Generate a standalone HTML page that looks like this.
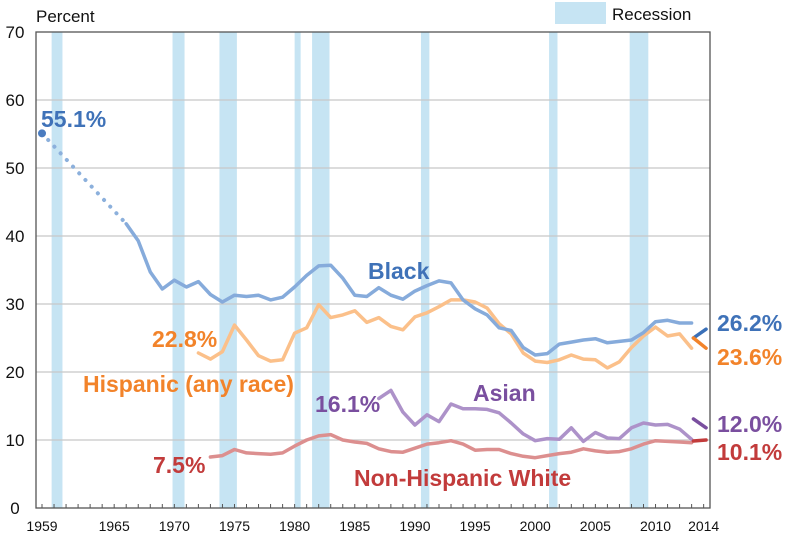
<!DOCTYPE html>
<html><head><meta charset="utf-8"><style>
html,body{margin:0;padding:0;background:#fff;}
svg{display:block;font-family:"Liberation Sans",Arial,sans-serif;}
</style></head><body>
<svg id="chart" width="785" height="536">
<g id="rec"></g><g id="grid"></g><g id="lines"></g><g id="labels"></g>
</svg>
<script>
const recessions=[[1959.8,1960.7],[1969.85,1970.85],[1973.75,1975.2],[1980.0,1980.5],[1981.45,1982.9],[1990.5,1991.2],[2001.15,2001.85],[2007.85,2009.4]];
const yTicks=[0,10,20,30,40,50,60,70];
const xTickLabels=[1959,1965,1970,1975,1980,1985,1990,1995,2000,2005,2010,2014];
const blackYears=[1966,1967,1968,1969,1970,1971,1972,1973,1974,1975,1976,1977,1978,1979,1980,1981,1982,1983,1984,1985,1986,1987,1988,1989,1990,1991,1992,1993,1994,1995,1996,1997,1998,1999,2000,2001,2002,2003,2004,2005,2006,2007,2008,2009,2010,2011,2012,2013];
const blackVals=[41.8,39.3,34.7,32.2,33.5,32.5,33.3,31.4,30.3,31.3,31.1,31.3,30.6,31.0,32.5,34.2,35.6,35.7,33.8,31.3,31.1,32.4,31.3,30.7,31.9,32.7,33.4,33.1,30.6,29.3,28.4,26.5,26.1,23.6,22.5,22.7,24.1,24.4,24.7,24.9,24.3,24.5,24.7,25.8,27.4,27.6,27.2,27.2];
const black1959=55.1;
const hispYears=[1972,1973,1974,1975,1976,1977,1978,1979,1980,1981,1982,1983,1984,1985,1986,1987,1988,1989,1990,1991,1992,1993,1994,1995,1996,1997,1998,1999,2000,2001,2002,2003,2004,2005,2006,2007,2008,2009,2010,2011,2012,2013];
const hispVals=[22.8,21.9,23.0,26.9,24.7,22.4,21.6,21.8,25.7,26.5,29.9,28.0,28.4,29.0,27.3,28.0,26.7,26.2,28.1,28.7,29.6,30.6,30.6,30.3,29.4,27.1,25.6,22.8,21.6,21.4,21.8,22.5,21.9,21.8,20.6,21.5,23.6,25.3,26.6,25.3,25.6,23.5];
const asianYears=[1987,1988,1989,1990,1991,1992,1993,1994,1995,1996,1997,1998,1999,2000,2001,2002,2003,2004,2005,2006,2007,2008,2009,2010,2011,2012,2013];
const asianVals=[16.1,17.3,14.1,12.2,13.7,12.7,15.3,14.6,14.6,14.5,14.0,12.5,10.9,9.9,10.2,10.1,11.8,9.8,11.1,10.3,10.2,11.8,12.5,12.2,12.3,11.6,10.1];
const whiteYears=[1973,1974,1975,1976,1977,1978,1979,1980,1981,1982,1983,1984,1985,1986,1987,1988,1989,1990,1991,1992,1993,1994,1995,1996,1997,1998,1999,2000,2001,2002,2003,2004,2005,2006,2007,2008,2009,2010,2011,2012,2013];
const whiteVals=[7.5,7.7,8.6,8.1,8.0,7.9,8.1,9.1,10.0,10.6,10.8,10.0,9.7,9.5,8.7,8.3,8.2,8.8,9.4,9.6,9.9,9.4,8.5,8.6,8.6,8.0,7.6,7.4,7.7,8.0,8.2,8.7,8.4,8.2,8.3,8.7,9.4,9.9,9.8,9.7,9.6];
const marker2014Blk=[25.0,26.3];
const marker2014His=[25.0,23.5];
const marker2014Asn=[13.1,11.8];
const marker2014Wht=[9.85,10.0];

const NS="http://www.w3.org/2000/svg";
const L=36,R=710,T=32,B=508;
const x=y=>42+(y-1959)*12.03;
const yS=v=>B-v*(B-T)/70;
function mk(tag,attrs,parent,text){const e=document.createElementNS(NS,tag);for(const k in attrs)e.setAttribute(k,attrs[k]);if(text!==undefined)e.textContent=text;parent.appendChild(e);return e;}
const rec=document.getElementById('rec'),grid=document.getElementById('grid'),lines=document.getElementById('lines'),labels=document.getElementById('labels');
recessions.forEach(r=>{const e=mk('rect',{x:x(r[0]),y:T,width:x(r[1])-x(r[0]),height:B-T,fill:'#c6e4f3'},rec);

});
yTicks.forEach(v=>{if(v>0&&v<70){const g=mk('line',{x1:L,x2:R,y1:yS(v),y2:yS(v),stroke:'#c8c8c8','stroke-width':1.2},grid);

}
const t=mk('text',{x:15,y:yS(v)+6,'text-anchor':'middle','font-size':17,fill:'#111'},grid,String(v));

});
const frame=mk('rect',{x:L,y:T,width:R-L,height:B-T,fill:'none',stroke:'#555','stroke-width':1.3},grid);


for(let yr=1959;yr<=2014;yr++){mk('line',{x1:x(yr),x2:x(yr),y1:B,y2:B-4,stroke:'#555','stroke-width':1},grid);}
xTickLabels.forEach(yr=>{const t=mk('text',{x:x(yr),y:B+23,'text-anchor':'middle','font-size':14,fill:'#111'},grid,String(yr));

});
const pt=mk('text',{x:36,y:22,'font-size':17,fill:'#111'},grid,'Percent');


const lr=mk('rect',{x:555,y:2,width:51,height:22,fill:'#c6e4f3'},grid);


const lt=mk('text',{x:612,y:20,'font-size':17,fill:'#111'},grid,'Recession');



function series(years,vals,color,name){const d=years.map((yr,i)=>(i?'L':'M')+x(yr).toFixed(1)+','+yS(vals[i]).toFixed(1)).join('');
const p=mk('path',{d:d,fill:'none',stroke:color,'stroke-width':3.5,'stroke-linejoin':'round','stroke-linecap':'round'},lines);

}
function marker(vals,color,name){const p=mk('path',{d:'M'+x(2013.15)+','+yS(vals[0])+'L'+x(2014.2)+','+yS(vals[1]),stroke:color,'stroke-width':3.5,'stroke-linecap':'round',fill:'none'},lines);

}
const dots=mk('path',{d:'M'+x(1959)+','+yS(black1959)+'L'+x(blackYears[0])+','+yS(blackVals[0]),stroke:'#8cb0dc','stroke-width':4,'stroke-dasharray':'0.1 9','stroke-linecap':'round',fill:'none'},lines);


const dot=mk('circle',{cx:x(1959),cy:yS(black1959),r:4,fill:'#4a7cc0'},lines);


series(whiteYears,whiteVals,'#dc8f8f','white-series-line');
series(asianYears,asianVals,'#ad92c9','asian-series-line');
series(hispYears,hispVals,'#fbc08a','hispanic-series-line');
series(blackYears,blackVals,'#86abdb','black-series-line');
marker(marker2014Blk,'#3a70b8','black-2014-marker');
marker(marker2014His,'#f2832a','hispanic-2014-marker');
marker(marker2014Asn,'#7a4f9f','asian-2014-marker');
marker(marker2014Wht,'#c23b3b','white-2014-marker');

function lab(tx,xx,yy,color,name){const t=mk('text',{x:xx,y:yy,'font-size':23,'font-weight':'bold',fill:color},labels,tx);

}
lab('55.1%',41,127,'#3f72b8','black-1959-value');
lab('Black',368,279,'#3f72b8','black-series-label');
lab('26.2%',717,331,'#3f72b8','black-2014-value');
lab('23.6%',717,365,'#f2832a','hispanic-2014-value');
lab('12.0%',717,432,'#7a4f9f','asian-2014-value');
lab('10.1%',717,460,'#c23b3b','white-2014-value');
lab('22.8%',152,347,'#f2832a','hispanic-1972-value');
lab('Hispanic (any race)',83,392,'#f2832a','hispanic-series-label');
lab('16.1%',315,412,'#7a4f9f','asian-1987-value');
lab('Asian',473,401,'#7a4f9f','asian-series-label');
lab('7.5%',153,473,'#c23b3b','white-1973-value');
lab('Non-Hispanic White',354,486,'#c23b3b','white-series-label');
</script>
</body></html>
